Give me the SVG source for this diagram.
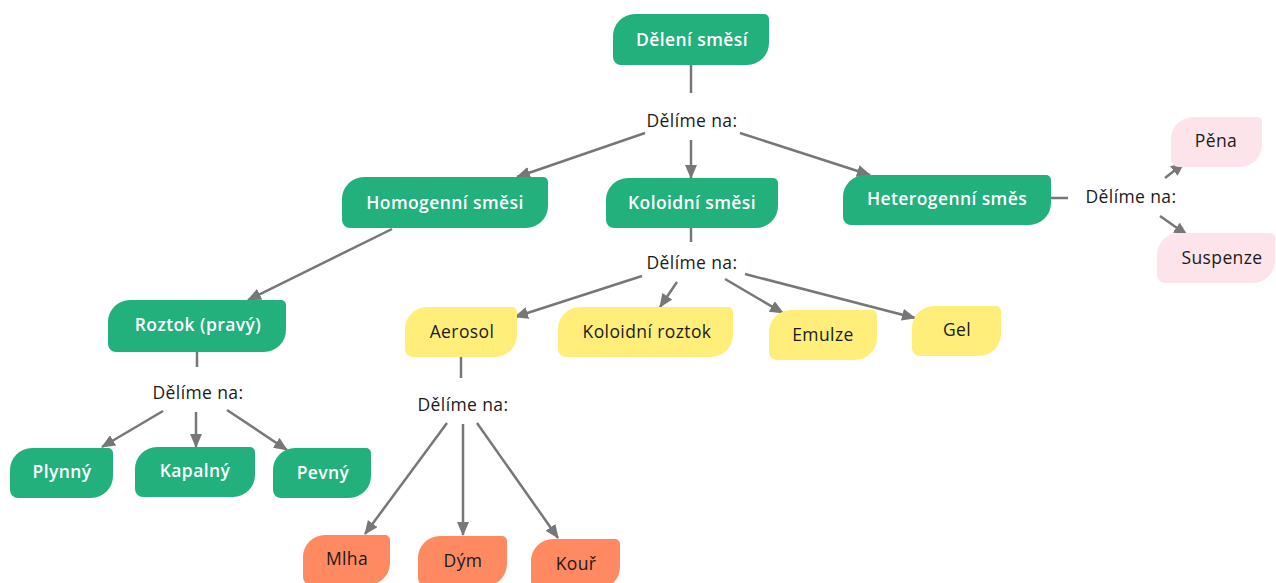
<svg xmlns="http://www.w3.org/2000/svg" width="1276" height="583" viewBox="0 0 1276 583">
  <style>
    .green { fill: #22B07D; }
    .yellow { fill: #FFEF7A; }
    .orange { fill: #FF8A62; }
    .pink { fill: #FCE4EA; }
    text { font-family: "Open Sans", "Liberation Sans", sans-serif; font-size: 17.5px; letter-spacing: 0.4px; text-anchor: middle; dominant-baseline: central; }
    .light { fill: #ffffff; font-weight: 600; }
    .dark { fill: #1a1a1a; font-weight: 500; }
    .link { stroke: #777777; stroke-width: 2.5; fill: none; }
    .arrow { marker-end: url(#head); }
  </style>
  <defs>
    <marker id="head" markerUnits="userSpaceOnUse" markerWidth="14" markerHeight="12" refX="13" refY="6" orient="auto">
      <path d="M0,0 L14,6 L0,12 Z" fill="#777777"/>
    </marker>
  </defs>

  <!-- connectors -->
  <g id="connectors">
    <line class="link" x1="691" y1="65" x2="691" y2="93"/>
    <line class="link arrow" x1="645" y1="133" x2="517" y2="177"/>
    <line class="link arrow" x1="691" y1="140" x2="691" y2="178"/>
    <line class="link arrow" x1="740" y1="133" x2="870" y2="175"/>
    <line class="link arrow" x1="392" y1="229" x2="248" y2="300"/>
    <line class="link" x1="691" y1="228" x2="691" y2="242"/>
    <line class="link arrow" x1="642" y1="276" x2="515" y2="317"/>
    <line class="link arrow" x1="677" y1="282" x2="660" y2="307"/>
    <line class="link arrow" x1="725" y1="279" x2="783" y2="313"/>
    <line class="link arrow" x1="745" y1="274" x2="915" y2="318"/>
    <line class="link" x1="1051" y1="198" x2="1068" y2="198"/>
    <line class="link arrow" x1="1165" y1="178" x2="1184" y2="163"/>
    <line class="link arrow" x1="1160" y1="216" x2="1187" y2="235"/>
    <line class="link" x1="197" y1="352" x2="197" y2="367"/>
    <line class="link arrow" x1="163" y1="411" x2="102" y2="447"/>
    <line class="link arrow" x1="196" y1="412" x2="196" y2="447"/>
    <line class="link arrow" x1="227" y1="410" x2="287" y2="450"/>
    <line class="link" x1="461" y1="357" x2="461" y2="378"/>
    <line class="link arrow" x1="447" y1="423" x2="365" y2="534"/>
    <line class="link arrow" x1="463" y1="424" x2="463" y2="535"/>
    <line class="link arrow" x1="477" y1="423" x2="558" y2="538"/>
  </g>

  <!-- branch labels -->
  <g id="labels">
    <text class="dark" x="692" y="120">Dělíme na:</text>
    <text class="dark" x="1131" y="196">Dělíme na:</text>
    <text class="dark" x="692" y="262">Dělíme na:</text>
    <text class="dark" x="198" y="392">Dělíme na:</text>
    <text class="dark" x="463" y="404">Dělíme na:</text>
  </g>

  <!-- nodes: leaf-shaped boxes, large radius top-left/bottom-right -->
  <g id="deleni-smesi" transform="translate(613,14)">
    <path class="green" d="M22,0 h129 a5,5 0 0 1 5,5 v24 a22,22 0 0 1 -22,22 h-126 a8,8 0 0 1 -8,-8 v-21 a22,22 0 0 1 22,-22 z"/>
    <text class="light" x="79" y="25">Dělení směsí</text>
  </g>
  <g id="homogenni" transform="translate(342,177)">
    <path class="green" d="M22,0 h179 a5,5 0 0 1 5,5 v24 a22,22 0 0 1 -22,22 h-176 a8,8 0 0 1 -8,-8 v-21 a22,22 0 0 1 22,-22 z"/>
    <text class="light" x="103" y="25">Homogenní směsi</text>
  </g>
  <g id="koloidni" transform="translate(606,178)">
    <path class="green" d="M22,0 h145 a5,5 0 0 1 5,5 v23 a22,22 0 0 1 -22,22 h-142 a8,8 0 0 1 -8,-8 v-20 a22,22 0 0 1 22,-22 z"/>
    <text class="light" x="86" y="24">Koloidní směsi</text>
  </g>
  <g id="heterogenni" transform="translate(843,175)">
    <path class="green" d="M22,0 h181 a5,5 0 0 1 5,5 v23 a22,22 0 0 1 -22,22 h-178 a8,8 0 0 1 -8,-8 v-20 a22,22 0 0 1 22,-22 z"/>
    <text class="light" x="104" y="23">Heterogenní směs</text>
  </g>
  <g id="pena" transform="translate(1171,117)">
    <path class="pink" d="M22,0 h64 a5,5 0 0 1 5,5 v23 a22,22 0 0 1 -22,22 h-61 a8,8 0 0 1 -8,-8 v-20 a22,22 0 0 1 22,-22 z"/>
    <text class="dark" x="45" y="23">Pěna</text>
  </g>
  <g id="suspenze" transform="translate(1157,233)">
    <path class="pink" d="M22,0 h91 a5,5 0 0 1 5,5 v23 a22,22 0 0 1 -22,22 h-88 a8,8 0 0 1 -8,-8 v-20 a22,22 0 0 1 22,-22 z"/>
    <text class="dark" x="65" y="24">Suspenze</text>
  </g>
  <g id="roztok" transform="translate(108,300)">
    <path class="green" d="M22,0 h151 a5,5 0 0 1 5,5 v25 a22,22 0 0 1 -22,22 h-148 a8,8 0 0 1 -8,-8 v-22 a22,22 0 0 1 22,-22 z"/>
    <text class="light" x="90" y="24">Roztok (pravý)</text>
  </g>
  <g id="plynny" transform="translate(10,448)">
    <path class="green" d="M22,0 h76 a5,5 0 0 1 5,5 v23 a22,22 0 0 1 -22,22 h-73 a8,8 0 0 1 -8,-8 v-20 a22,22 0 0 1 22,-22 z"/>
    <text class="light" x="52" y="23">Plynný</text>
  </g>
  <g id="kapalny" transform="translate(135,447)">
    <path class="green" d="M22,0 h93 a5,5 0 0 1 5,5 v23 a22,22 0 0 1 -22,22 h-90 a8,8 0 0 1 -8,-8 v-20 a22,22 0 0 1 22,-22 z"/>
    <text class="light" x="60" y="23">Kapalný</text>
  </g>
  <g id="pevny" transform="translate(273,448)">
    <path class="green" d="M22,0 h71 a5,5 0 0 1 5,5 v23 a22,22 0 0 1 -22,22 h-68 a8,8 0 0 1 -8,-8 v-20 a22,22 0 0 1 22,-22 z"/>
    <text class="light" x="50" y="24">Pevný</text>
  </g>
  <g id="aerosol" transform="translate(405,307)">
    <path class="yellow" d="M22,0 h85 a5,5 0 0 1 5,5 v23 a22,22 0 0 1 -22,22 h-82 a8,8 0 0 1 -8,-8 v-20 a22,22 0 0 1 22,-22 z"/>
    <text class="dark" x="57" y="24">Aerosol</text>
  </g>
  <g id="koloidni-roztok" transform="translate(558,307)">
    <path class="yellow" d="M22,0 h148 a5,5 0 0 1 5,5 v23 a22,22 0 0 1 -22,22 h-145 a8,8 0 0 1 -8,-8 v-20 a22,22 0 0 1 22,-22 z"/>
    <text class="dark" x="89" y="24">Koloidní roztok</text>
  </g>
  <g id="emulze" transform="translate(769,310)">
    <path class="yellow" d="M22,0 h81 a5,5 0 0 1 5,5 v23 a22,22 0 0 1 -22,22 h-78 a8,8 0 0 1 -8,-8 v-20 a22,22 0 0 1 22,-22 z"/>
    <text class="dark" x="54" y="24">Emulze</text>
  </g>
  <g id="gel" transform="translate(912,306)">
    <path class="yellow" d="M22,0 h62 a5,5 0 0 1 5,5 v23 a22,22 0 0 1 -22,22 h-59 a8,8 0 0 1 -8,-8 v-20 a22,22 0 0 1 22,-22 z"/>
    <text class="dark" x="45" y="23">Gel</text>
  </g>
  <g id="mlha" transform="translate(303,535)">
    <path class="orange" d="M22,0 h60 a5,5 0 0 1 5,5 v23 a22,22 0 0 1 -22,22 h-57 a8,8 0 0 1 -8,-8 v-20 a22,22 0 0 1 22,-22 z"/>
    <text class="dark" x="44" y="23">Mlha</text>
  </g>
  <g id="dym" transform="translate(418,536)">
    <path class="orange" d="M22,0 h62 a5,5 0 0 1 5,5 v23 a22,22 0 0 1 -22,22 h-59 a8,8 0 0 1 -8,-8 v-20 a22,22 0 0 1 22,-22 z"/>
    <text class="dark" x="45" y="24">Dým</text>
  </g>
  <g id="kour" transform="translate(531,539)">
    <path class="orange" d="M22,0 h62 a5,5 0 0 1 5,5 v23 a22,22 0 0 1 -22,22 h-59 a8,8 0 0 1 -8,-8 v-20 a22,22 0 0 1 22,-22 z"/>
    <text class="dark" x="45" y="24">Kouř</text>
  </g>
</svg>
